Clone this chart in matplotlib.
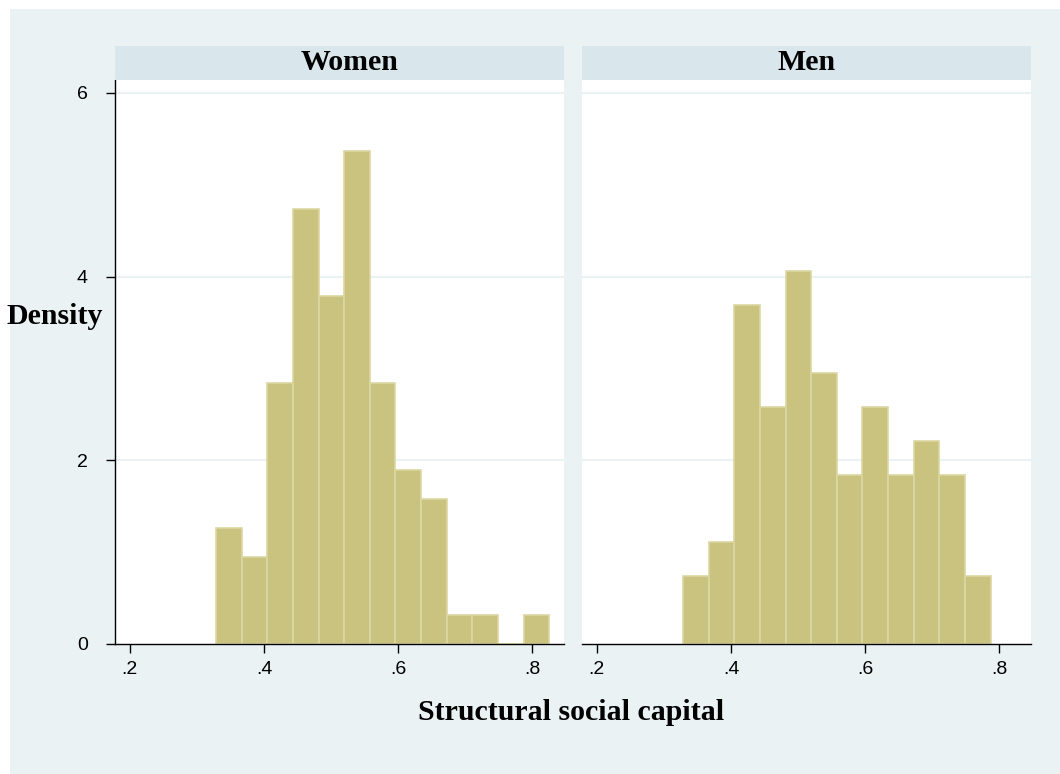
import numpy as np
import matplotlib
matplotlib.use("Agg")
import matplotlib.pyplot as plt
from matplotlib.patches import Rectangle

# histogram bins
bin_start = 0.3285
bin_width = 0.0382

panels = ["Women", "Men"]
women_counts = [4, 3, 9, 15, 12, 17, 9, 6, 5, 1, 1, 0, 1]
men_counts = [2, 3, 10, 7, 11, 8, 5, 7, 5, 6, 5, 2]

y_ticks = [0, 2, 4, 6]
x_ticks = [0.2, 0.4, 0.6, 0.8]
x_ticklabels = [".2", ".4", ".6", ".8"]

bg = "#EAF2F3"
strip = "#D9E6EB"
bar_fill = "#CAC27F"
bar_edge = "#DCD7A2"

W, H = 1060, 774
fig = plt.figure(figsize=(W / 100, H / 100), dpi=100, facecolor="white")
fig.patches.append(Rectangle((10 / W, 0), 1 - 10 / W, 1 - 9 / H,
                             transform=fig.transFigure, facecolor=bg,
                             edgecolor="none", zorder=-10))

serif = "Liberation Serif"
sans = "Liberation Sans"

lefts = [115, 582]
title_x = [350, 807]
pw = 449
top, bottom = 80, 644

for i, (name, counts) in enumerate(zip(panels, [women_counts, men_counts])):
    ax = fig.add_axes([lefts[i] / W, 1 - bottom / H, pw / W, (bottom - top) / H])
    ax.set_facecolor("white")
    counts = np.array(counts, dtype=float)
    dens = counts / (counts.sum() * bin_width)
    edges = bin_start + bin_width * np.arange(len(counts))
    ax.bar(edges, dens, width=bin_width, align="edge", color=bar_fill,
           edgecolor=bar_edge, linewidth=1.2, zorder=2)
    ax.set_xlim(0.178, 0.847)
    ax.set_ylim(0, 6.14)
    for yv in y_ticks[1:]:
        ax.axhline(yv, color=bg, lw=1.5, zorder=1)
    ax.set_xticks(x_ticks)
    ax.set_xticklabels(x_ticklabels, fontfamily=sans, fontsize=14)
    ax.tick_params(axis="x", direction="out", length=6.5, width=1, pad=6)
    for s in ["top", "right"]:
        ax.spines[s].set_visible(False)
    ax.spines["bottom"].set_linewidth(1)
    if i == 0:
        ax.set_yticks(y_ticks)
        ax.set_yticklabels([str(v) for v in y_ticks], fontfamily=sans, fontsize=14)
        ax.tick_params(axis="y", direction="out", length=6.5, width=1, pad=13)
        ax.spines["left"].set_linewidth(1)
    else:
        ax.set_yticks([])
        ax.spines["left"].set_visible(False)

    # panel header strip
    fig.patches.append(Rectangle((lefts[i] / W, 1 - 80 / H), pw / W, 34 / H,
                                 transform=fig.transFigure, facecolor=strip,
                                 edgecolor="none"))
    fig.text(title_x[i] / W, 1 - 63 / H, name, ha="center", va="center",
             fontfamily=serif, fontweight="bold", fontsize=21.5)

fig.text(55 / W, 1 - 316 / H, "Density", ha="center", va="center",
         fontfamily=serif, fontweight="bold", fontsize=21.5)
fig.text(571 / W, 1 - 712 / H, "Structural social capital", ha="center",
         va="center", fontfamily=serif, fontweight="bold", fontsize=21.5)

fig.savefig("out.png", dpi=100, facecolor=fig.get_facecolor())
